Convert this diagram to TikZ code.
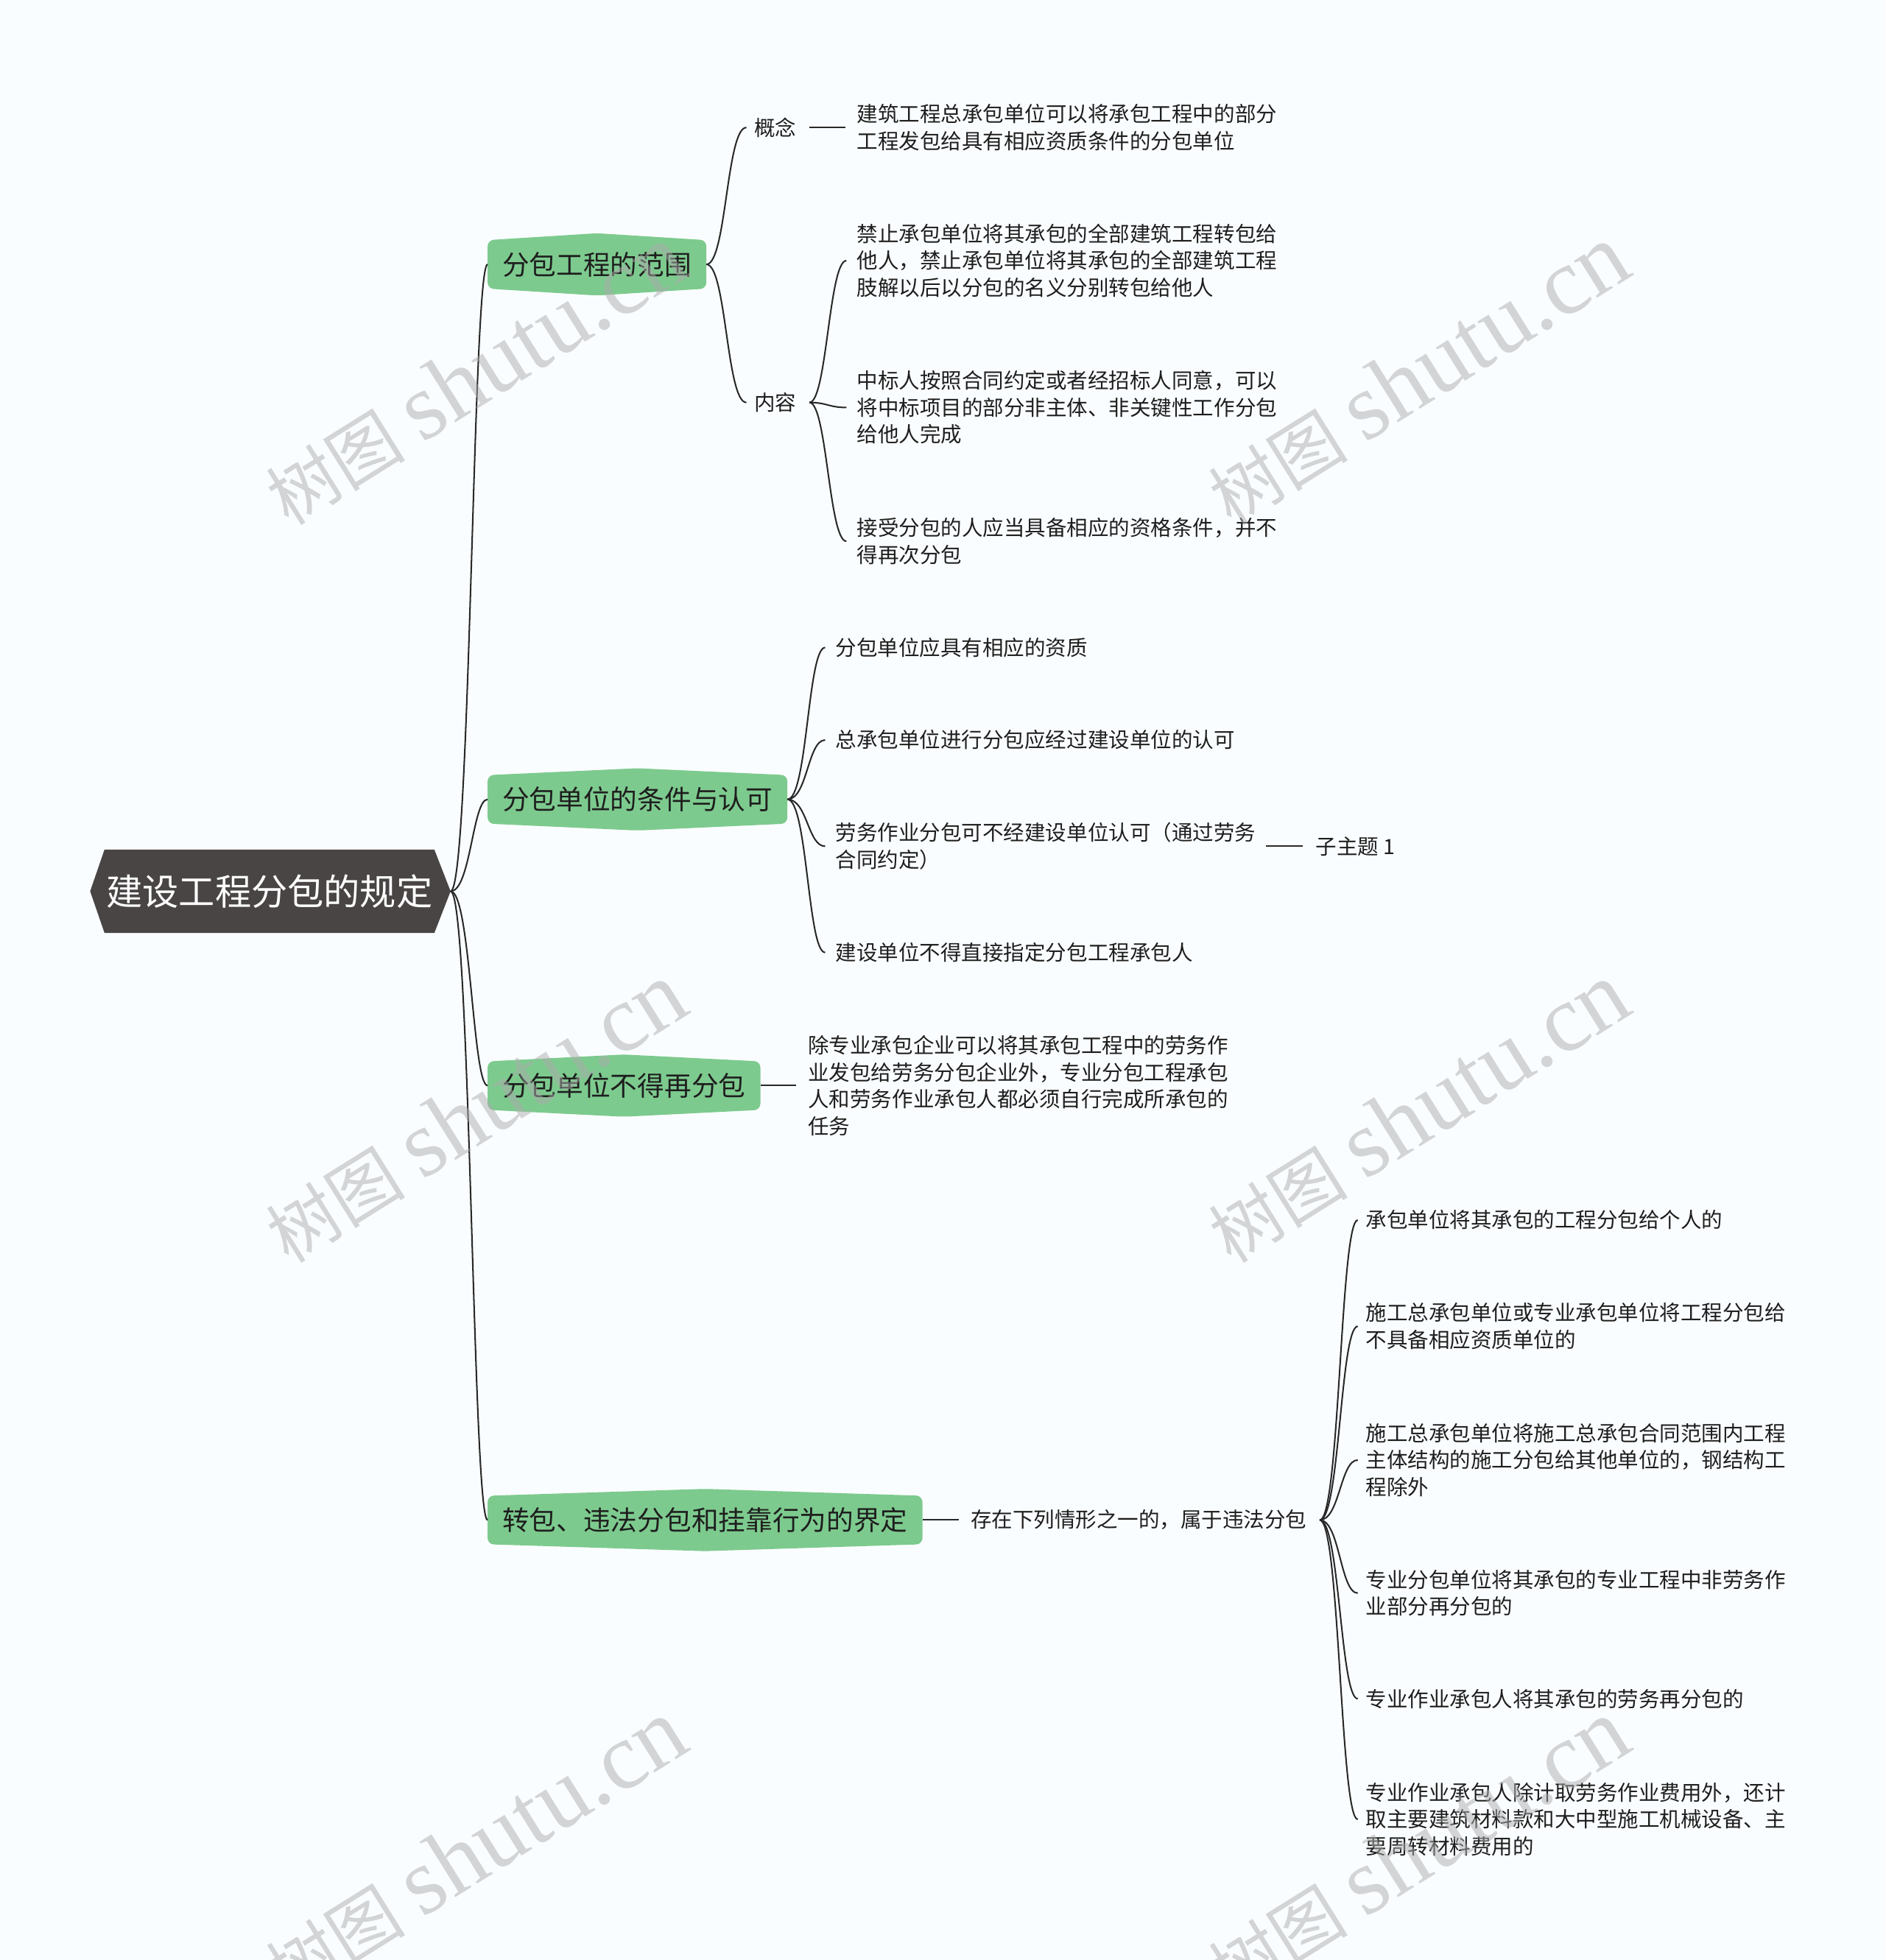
\documentclass[tikz,border=0pt]{standalone}
\usepackage{fontspec}
\setmainfont{Noto Sans CJK SC}
\newfontfamily\wmfont{Liberation Serif}
\usetikzlibrary{calc,backgrounds}
\definecolor{bgc}{RGB}{250,253,255}
\definecolor{rootc}{RGB}{74,69,69}
\definecolor{gc}{RGB}{125,202,142}
\definecolor{linec}{RGB}{40,40,40}
\definecolor{txtc}{RGB}{30,30,30}
\newcommand\gshape[1]{\fill[gc,rounded corners=2.5pt] (#1.north west) -- ($(#1.north)+(0,-5.5)$) -- (#1.north east) -- (#1.south east) -- ($(#1.south)+(0,5.5)$) -- (#1.south west) -- cycle;}
\newcommand\wmtext{{\fontsize{28}{34}\selectfont 树图}\hspace{7pt}{\wmfont\fontsize{38}{44}\selectfont shutu.cn}}
\begin{document}
\begin{tikzpicture}[x=0.5pt,y=-0.5pt,
  conn/.style={draw=linec,line width=0.6pt},
  leaf/.style={anchor=west,inner sep=0pt,align=left,text=txtc,font=\fontsize{8.4}{10.8}\selectfont},
  gnode/.style={anchor=west,inner xsep=5.75pt,inner ysep=0pt,minimum height=19pt,text=txtc,font=\fontsize{10.8}{13}\selectfont},
  rootnode/.style={inner sep=0pt,minimum width=131.5pt,minimum height=33pt,text=white,font=\fontsize{14.5}{17}\selectfont},
  wm/.style={text=gray!65,opacity=0.5,rotate=32,inner sep=0pt}
]
\path[use as bounding box] (0,0) rectangle (1508,1568);
\clip (0,0) rectangle (1508,1568);

% root
\node[rootnode] (root) at (215.5,713) {建设工程分包的规定};
\coordinate (rt) at ($(root.east)+(13,0)$);

% main branches
\node[gnode] (g1) at (390,211.5) {分包工程的范围};
\node[gnode] (g2) at (390,639.5) {分包单位的条件与认可};
\node[gnode] (g3) at (390,868.5) {分包单位不得再分包};
\node[gnode] (g4) at (390,1216) {转包、违法分包和挂靠行为的界定};

\begin{scope}[on background layer]
\fill[bgc] (0,0) rectangle (1508,1568);
\fill[rootc] (root.north west) -- (root.north east) -- (rt) -- (root.south east) -- (root.south west) -- ($(root.west)+(-11.5,0)$) -- cycle;
\gshape{g1}
\gshape{g2}
\gshape{g3}
\gshape{g4}
\end{scope}

% branch 1
\node[leaf] (gn) at (603,102) {概念};
\node[leaf] (nr) at (603,322) {内容};
\node[leaf] (gn1) at (685,102) {建筑工程总承包单位可以将承包工程中的部分\\工程发包给具有相应资质条件的分包单位};
\node[leaf] (nr1) at (685,208.5) {禁止承包单位将其承包的全部建筑工程转包给\\他人，禁止承包单位将其承包的全部建筑工程\\肢解以后以分包的名义分别转包给他人};
\node[leaf] (nr2) at (685,326) {中标人按照合同约定或者经招标人同意，可以\\将中标项目的部分非主体、非关键性工作分包\\给他人完成};
\node[leaf] (nr3) at (685,433) {接受分包的人应当具备相应的资格条件，并不\\得再次分包};

% branch 2
\node[leaf] (c1) at (668,518) {分包单位应具有相应的资质};
\node[leaf] (c2) at (668,592) {总承包单位进行分包应经过建设单位的认可};
\node[leaf] (c3) at (668,677) {劳务作业分包可不经建设单位认可（通过劳务\\合同约定）};
\node[leaf] (zz) at (1052,677) {子主题 1};
\node[leaf] (c4) at (668,762) {建设单位不得直接指定分包工程承包人};

% branch 3
\node[leaf] (d1) at (646,868.5) {除专业承包企业可以将其承包工程中的劳务作\\业发包给劳务分包企业外，专业分包工程承包\\人和劳务作业承包人都必须自行完成所承包的\\任务};

% branch 4
\node[leaf] (w) at (776,1216) {存在下列情形之一的，属于违法分包};
\node[leaf] (e1) at (1092,976) {承包单位将其承包的工程分包给个人的};
\node[leaf] (e2) at (1092,1061) {施工总承包单位或专业承包单位将工程分包给\\不具备相应资质单位的};
\node[leaf] (e3) at (1092,1168) {施工总承包单位将施工总承包合同范围内工程\\主体结构的施工分包给其他单位的，钢结构工\\程除外};
\node[leaf] (e4) at (1092,1274.5) {专业分包单位将其承包的专业工程中非劳务作\\业部分再分包的};
\node[leaf] (e5) at (1092,1359) {专业作业承包人将其承包的劳务再分包的};
\node[leaf] (e6) at (1092,1455.5) {专业作业承包人除计取劳务作业费用外，还计\\取主要建筑材料款和大中型施工机械设备、主\\要周转材料费用的};

% connectors from root
\foreach \t in {g1,g2,g3,g4}
  \draw[conn] (rt) .. controls +(16,0) and +(-12,0) .. (\t.west);

% branch 1 connectors
\foreach \t in {gn,nr}
  \draw[conn] (g1.east) .. controls +(16,0) and +(-16,0) .. ([xshift=-3pt]\t.west);
\draw[conn] ([xshift=5pt]gn.east) -- ([xshift=-4.5pt]gn1.west);
\foreach \t in {nr1,nr2,nr3}
  \draw[conn] ([xshift=5pt]nr.east) .. controls +(14,0) and +(-14,0) .. ([xshift=-4pt]\t.west);

% branch 2 connectors
\foreach \t in {c1,c2,c3,c4}
  \draw[conn] (g2.east) .. controls +(16,0) and +(-14,0) .. ([xshift=-4pt]\t.west);
\draw[conn] ([xshift=4pt]c3.east) -- ([xshift=-5pt]zz.west);

% branch 3 connector
\draw[conn] (g3.east) -- ([xshift=-4.5pt]d1.west);

% branch 4 connectors
\draw[conn] (g4.east) -- ([xshift=-4.5pt]w.west);
\foreach \t in {e1,e2,e3,e4,e5,e6}
  \draw[conn] ([xshift=5pt]w.east) .. controls +(16,0) and +(-14,0) .. ([xshift=-3pt]\t.west);

% watermarks
\node[wm] (wm1) at (380,300) {\wmtext};
\node[wm] (wm2) at (1134,300) {\wmtext};
\node[wm] (wm3) at (380,890) {\wmtext};
\node[wm] (wm4) at (1134,890) {\wmtext};
\node[wm] (wm5) at (380,1480) {\wmtext};
\node[wm] (wm6) at (1134,1480) {\wmtext};
\end{tikzpicture}
\end{document}
